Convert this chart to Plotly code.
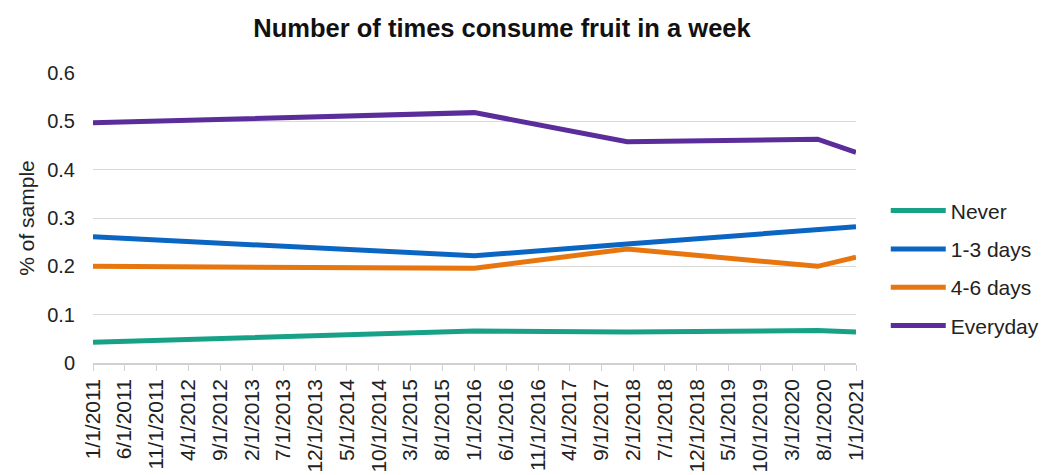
import plotly.graph_objects as go

dates = ["2011-01-01", "2016-01-01", "2018-01-01", "2020-07-01", "2021-01-01"]
never = [0.043, 0.066, 0.064, 0.067, 0.064]
days_1_3 = [0.261, 0.222, 0.246, 0.274, 0.282]
days_4_6 = [0.200, 0.196, 0.236, 0.200, 0.219]
everyday = [0.497, 0.518, 0.458, 0.463, 0.436]

series = [
    ("Never", never, "#17a287"),
    ("1-3 days", days_1_3, "#0a66c2"),
    ("4-6 days", days_4_6, "#e8760f"),
    ("Everyday", everyday, "#5b2d9b"),
]

W, H = 1039, 467  # page body adds an 8px margin

fig = go.Figure()
for name, vals, col in series:
    fig.add_trace(go.Scatter(x=dates, y=vals, name=name, mode="lines", legendgroup=name,
                             line=dict(color=col, width=5)))

fig.update_layout(
    width=W, height=H,
    paper_bgcolor="white", plot_bgcolor="white",
    font=dict(family="Liberation Sans, Arial, sans-serif", color="#222222"),
    title=dict(text="<b>Number of times consume fruit in a week</b>", x=494 / W, xanchor="center",
               y=1 - 20 / H, yanchor="middle", font=dict(size=25.5, color="#111111")),
    margin=dict(l=85, r=191, t=65, b=112, autoexpand=False),
    showlegend=True,
    legend=dict(x=1.039, y=0.326, xanchor="left", yanchor="middle",
                font=dict(size=21, color="#222222"), tracegroupgap=8, itemwidth=55,
                bgcolor="rgba(0,0,0,0)"),
    xaxis=dict(type="date", range=["2011-01-01", "2021-01-01"], tick0="2011-01-01", dtick="M5",
               tickformat="%-m/%-d/%Y", tickangle=-90, tickfont=dict(size=21, color="#222222"),
               showgrid=False, showline=True, linecolor="#d0d0d0", linewidth=1.5,
               ticks="outside", ticklen=6, tickcolor="#d0d0d0", zeroline=False, automargin=False),
    yaxis=dict(range=[0, 0.6], dtick=0.1, tickformat="~g", tickfont=dict(size=20, color="#222222"),
               showgrid=True, gridcolor="#d9d9d9", gridwidth=1.2, zeroline=False, automargin=False,
               ticklabelstandoff=17,
               title=dict(text="% of sample", font=dict(size=21, color="#222222"), standoff=6),
               ticks="", ticklen=0),
)
fig.write_html("out.html")
